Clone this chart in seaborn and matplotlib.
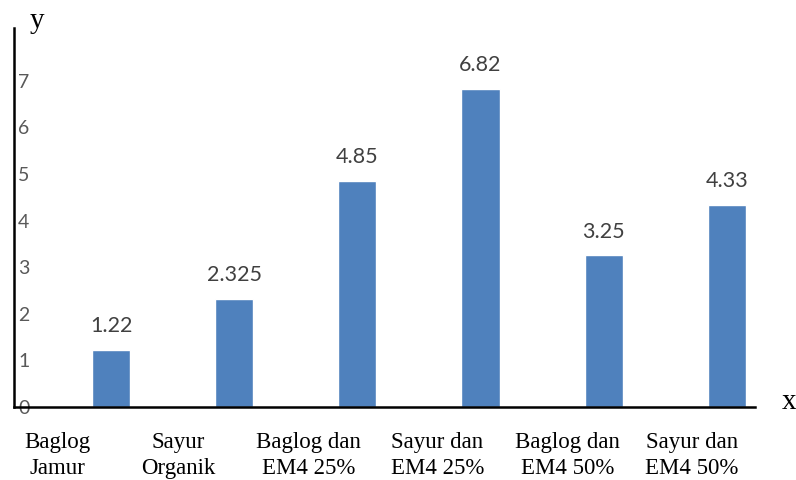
import matplotlib
matplotlib.use("Agg")
import matplotlib.pyplot as plt
import matplotlib.transforms as mtransforms
import seaborn as sns
import pandas as pd

categories = ["Baglog\nJamur", "Sayur\nOrganik", "Baglog dan\nEM4 25%",
              "Sayur dan\nEM4 25%", "Baglog dan\nEM4 50%", "Sayur dan\nEM4 50%"]
values = [1.22, 2.325, 4.85, 6.82, 3.25, 4.33]
value_labels = ["1.22", "2.325", "4.85", "6.82", "3.25", "4.33"]
y_ticks = [0, 1, 2, 3, 4, 5, 6, 7]

sns.set_theme(style="white")
plt.rcParams["font.family"] = ["Lato", "DejaVu Sans"]

df = pd.DataFrame({"cat": categories, "val": values})

fig = plt.figure(figsize=(7.96, 4.8), dpi=100)
ax = fig.add_axes([14 / 796, 1 - 407 / 480, (755 - 14) / 796, (407 - 28) / 480])

sns.barplot(data=df, x="cat", y="val", color="#4F81BD", saturation=1,
            width=0.31, ax=ax)

ax.set_xlim(-0.79, 5.23)
ax.set_ylim(0, 8.13)

for s in ["top", "right"]:
    ax.spines[s].set_visible(False)
for s in ["left", "bottom"]:
    ax.spines[s].set_color("black")
    ax.spines[s].set_linewidth(1.8)

# value labels above bars
ax.bar_label(ax.containers[0], labels=value_labels, padding=10,
             fontsize=15.5, color="#404040", family=["Lato", "DejaVu Sans"])

# y tick labels drawn just inside the axis line
ax.set_yticks(y_ticks)
ax.set_yticklabels([str(t) for t in y_ticks])
ax.tick_params(axis="y", length=0, pad=-3, labelsize=14, labelcolor="#595959")
for lbl in ax.get_yticklabels():
    lbl.set_horizontalalignment("left")

# category labels, set in a serif face and shifted left of each bar
ax.set_xlabel("")
ax.set_ylabel("")
ax.set_xticks(range(len(categories)))
ax.set_xticklabels(categories, family=["Liberation Serif", "DejaVu Serif"],
                   fontsize=16.5, color="black", linespacing=1.3)
ax.tick_params(axis="x", length=0, pad=18)
shifts = [-54, -56, -49, -43, -36, -35]
for lbl, dx in zip(ax.get_xticklabels(), shifts):
    lbl.set_transform(lbl.get_transform() +
                      mtransforms.ScaledTranslation(dx / 100, 0, fig.dpi_scale_trans))

fig.text(37 / 796, 1 - 21 / 480, "y", family=["Liberation Serif", "DejaVu Serif"],
         fontsize=21, ha="center", va="center", color="black")
fig.text(789 / 796, 1 - 402 / 480, "x", family=["Liberation Serif", "DejaVu Serif"],
         fontsize=21, ha="center", va="center", color="black")

fig.savefig("out.png", dpi=100)
